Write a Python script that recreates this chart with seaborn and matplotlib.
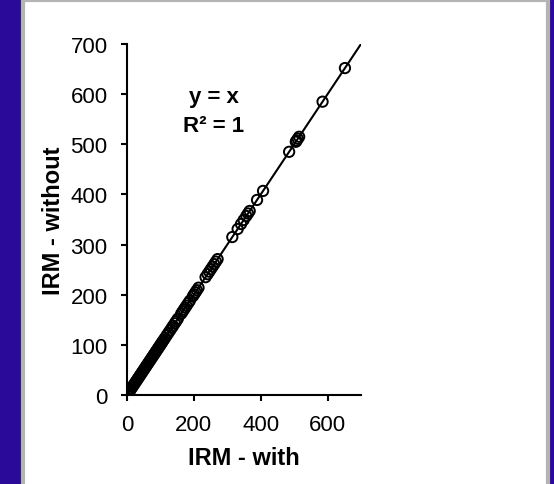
import matplotlib
matplotlib.use("Agg")
import matplotlib.pyplot as plt
from matplotlib.patches import Rectangle
import seaborn as sns
import pandas as pd

# IRM values with and without correction (identical pairs)
irm_with = [652, 585, 515, 511, 507, 505, 485, 407, 389, 367, 362, 357, 349, 341,
            331, 315, 271, 266, 261, 256, 251, 246, 241, 235, 214, 209, 205, 201,
            197, 188, 183, 178, 174, 170, 166, 162, 152, 147, 143, 138, 134, 129,
            124, 119, 114, 110, 106, 103, 100, 97, 94, 91, 88, 85, 82, 79, 76,
            73, 70, 67, 64, 61, 58, 55, 52, 49, 46, 43, 40, 37, 34, 31, 28, 25,
            22, 19, 16, 13, 10, 8, 6, 4, 2, 1]
irm_without = list(irm_with)
fit_x = [0, 700]
fit_y = [0, 700]
x_ticks = [0, 200, 400, 600]
y_ticks = [0, 100, 200, 300, 400, 500, 600, 700]

sns.set_theme(style="ticks")
plt.rcParams["font.family"] = ["Liberation Sans", "DejaVu Sans"]
plt.rcParams["text.color"] = "black"
plt.rcParams["axes.labelcolor"] = "black"

W, H = 554, 485
fig = plt.figure(figsize=(W / 100, H / 100), dpi=100)
fig.patch.set_facecolor("#2a0a98")

# white panel with grey frame, kept behind the axes
fig.patches.append(Rectangle((23, -5), 525, 489, transform=None,
                             facecolor="white", edgecolor="#b4b4b4",
                             linewidth=3, zorder=-5))

ax = fig.add_axes([127 / W, 1 - 396 / H, (361 - 127) / W, (396 - 45) / H])
ax.set_facecolor("none")
ax.set_zorder(2)

df = pd.DataFrame({"with": irm_with, "without": irm_without})
sns.lineplot(x=fit_x, y=fit_y, ax=ax, color="black", linewidth=1.5, zorder=2)
sns.scatterplot(data=df, x="with", y="without", ax=ax, marker="o",
                facecolor="none", edgecolor="black", linewidth=1.4, s=55,
                zorder=3)

ax.set_xlim(0, 700)
ax.set_ylim(0, 700)
ax.set_xticks(x_ticks)
ax.set_yticks(y_ticks)
ax.tick_params(axis="both", direction="out", length=4.5, width=1.5,
               labelsize=16, color="black", labelcolor="black")
ax.tick_params(axis="y", pad=9.5)
ax.tick_params(axis="x", pad=9)
for side in ("top", "right"):
    ax.spines[side].set_visible(False)
for side in ("left", "bottom"):
    ax.spines[side].set_linewidth(1.5)
    ax.spines[side].set_color("black")

ax.set_xlabel("IRM - with", fontsize=17, fontweight="bold", labelpad=8)
ax.set_ylabel("IRM - without", fontsize=17, fontweight="bold", labelpad=4)

# fit equation and coefficient of determination
ax.text(0.372, 0.835, "y = x", transform=ax.transAxes,
        ha="center", va="baseline", fontsize=16, fontweight="bold")
ax.text(0.372, 0.752, "R² = 1", transform=ax.transAxes,
        ha="center", va="baseline", fontsize=16, fontweight="bold")

fig.savefig("out.png", dpi=100, facecolor=fig.get_facecolor())
